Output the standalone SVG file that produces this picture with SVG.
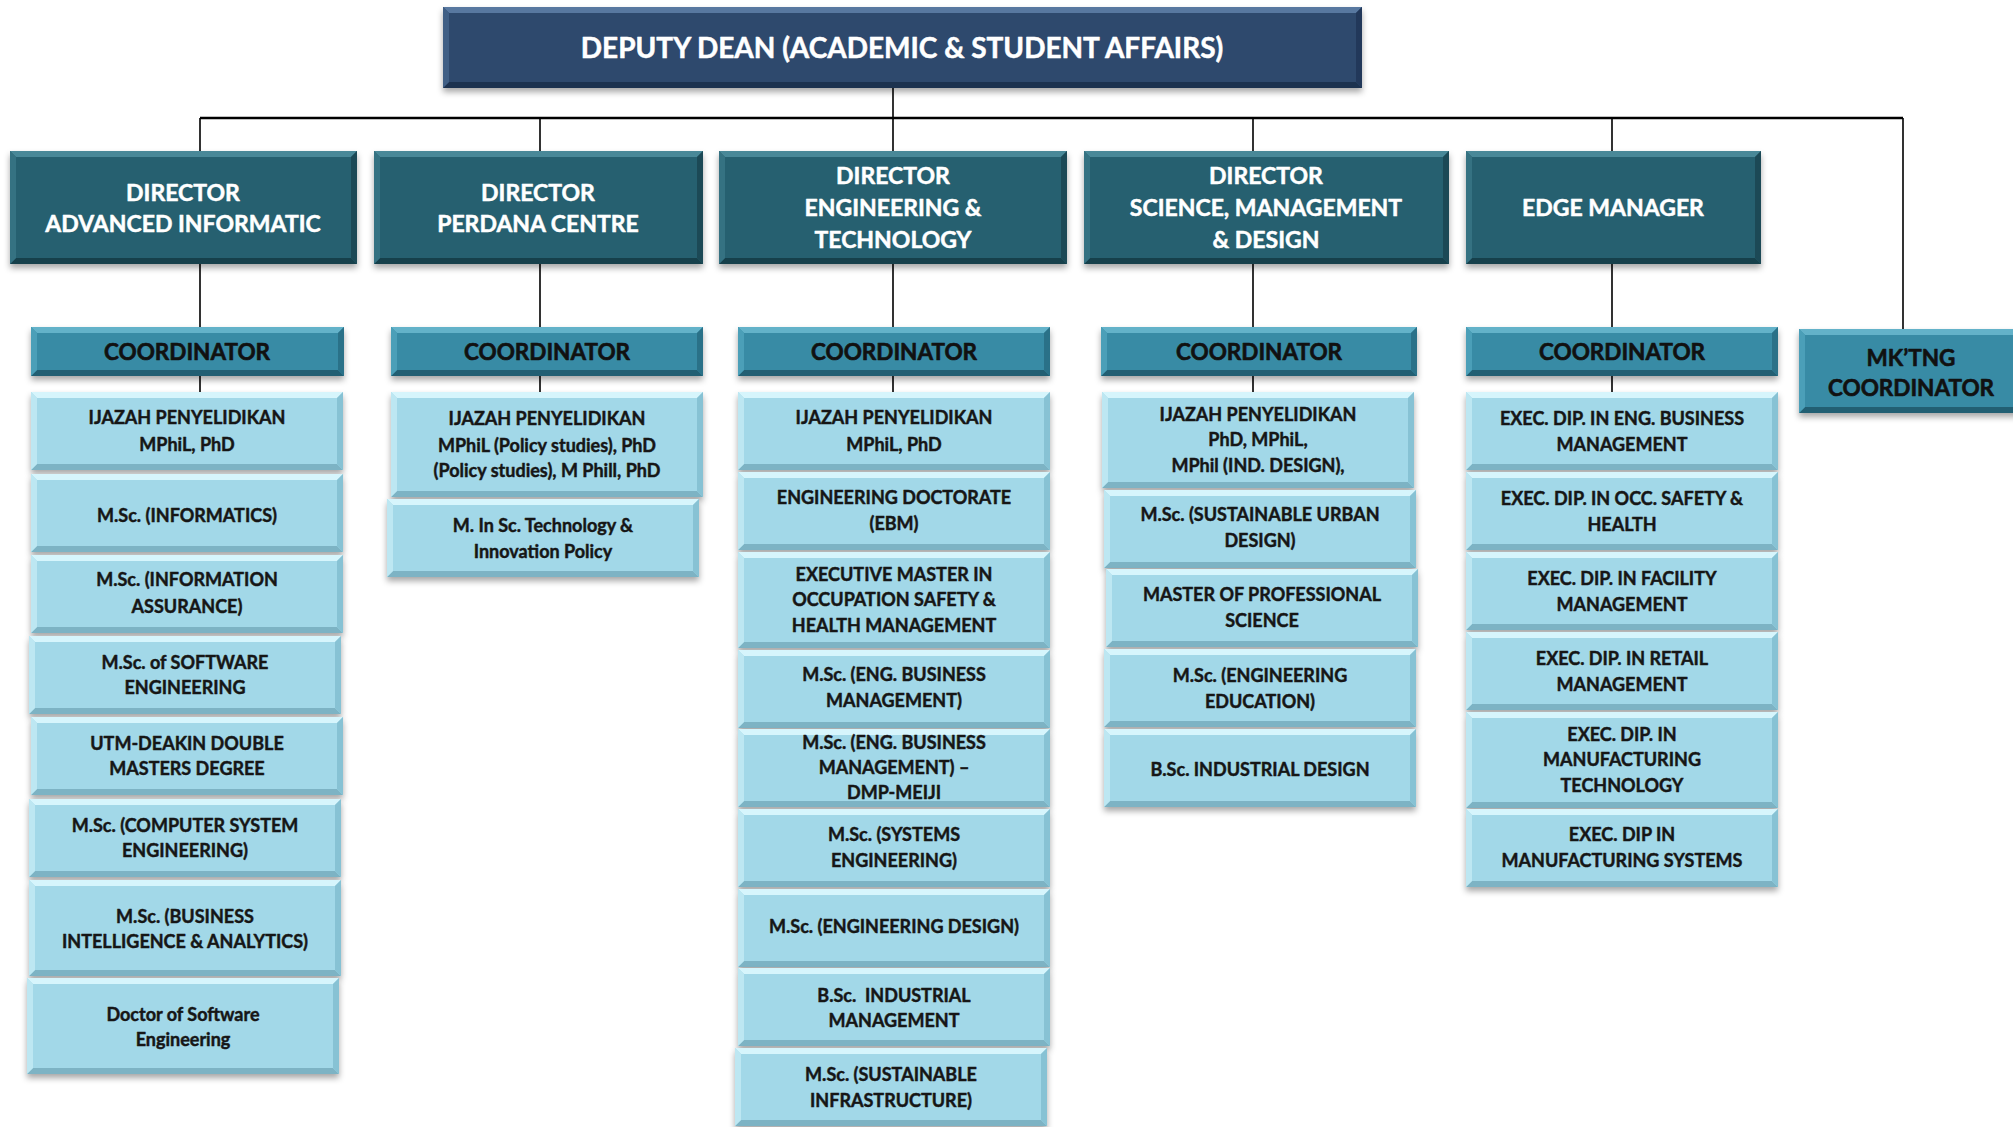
<svg xmlns="http://www.w3.org/2000/svg" xmlns:xlink="http://www.w3.org/1999/xlink" width="2013" height="1127" viewBox="0 0 2013 1127">
<style>
text{font-family:Lato,"Open Sans","Liberation Sans",sans-serif;font-weight:bold;text-anchor:middle;stroke-linejoin:round}
.tdep{font-size:28px;fill:#fff;stroke:#fff;stroke-width:0.5}
.tdir{font-size:23px;fill:#fff;stroke:#fff;stroke-width:0.5}
.tco{font-size:22.5px;fill:#111;stroke:#111;stroke-width:0.6}
.tit{font-size:18px;fill:#161616;stroke:#161616;stroke-width:0.45}
.ln{stroke:#000;stroke-width:1.6;fill:none}
.bus{stroke:#000;stroke-width:2.6;fill:none}
.dm{fill:#27606F}.dt{fill:#4A8898}.dl{fill:#367282}.dr{fill:#1C4A57}.db{fill:#18404B}
.cm{fill:#378BA5}.ct{fill:#63B2C9}.cl{fill:#4B9FB8}.cr{fill:#2B7188}.cb{fill:#235F73}
.im{fill:#A2D8E8}.it{fill:#D6F5FC}.il{fill:#BDE7F2}.ir{fill:#87C2D4}.ib{fill:#7DB3C4}
.sh{filter:url(#sh)}
</style>
<defs>
<filter id="sh" x="-5%" y="-10%" width="110%" height="135%"><feDropShadow dx="0" dy="4" stdDeviation="3" flood-color="#000" flood-opacity="0.35"/></filter>
<g id="i78">
<rect class="im" x="0" y="0" width="312" height="78"/>
<polygon class="it" points="0,0 312,0 306,6 6,6"/>
<polygon class="ib" points="0,78 312,78 306,72 6,72"/>
<polygon class="il" points="0,0 6,6 6,72 0,78"/>
<polygon class="ir" points="312,0 306,6 306,72 312,78"/>
</g>
<g id="i96">
<rect class="im" x="0" y="0" width="312" height="96"/>
<polygon class="it" points="0,0 312,0 306,6 6,6"/>
<polygon class="ib" points="0,96 312,96 306,90 6,90"/>
<polygon class="il" points="0,0 6,6 6,90 0,96"/>
<polygon class="ir" points="312,0 306,6 306,90 312,96"/>
</g>
<g id="i105">
<rect class="im" x="0" y="0" width="312" height="105"/>
<polygon class="it" points="0,0 312,0 306,6 6,6"/>
<polygon class="ib" points="0,105 312,105 306,99 6,99"/>
<polygon class="il" points="0,0 6,6 6,99 0,105"/>
<polygon class="ir" points="312,0 306,6 306,99 312,105"/>
</g>
</defs>
<rect width="2013" height="1127" fill="#fff"/>

<g id="connectors">
<path class="ln" d="M893,88V118"/>
<path class="bus" d="M200,118H1903"/>
<path class="ln" d="M200,118V151M540,118V151M893,118V151M1253,118V151M1612,118V151M1903,118V329"/>
<path class="ln" d="M200,264V327M540,264V327M893,264V327M1253,264V327M1612,264V327"/>
<path class="ln" d="M200,376V392M540,376V392M893,376V392M1253,376V392M1612,376V392"/>
</g>

<g id="deputy-dean">
<g class="sh" transform="translate(443,7)">
<rect x="0" y="0" width="919" height="81" fill="#2D4A6D"/>
<polygon points="0,0 919,0 913,6 6,6" fill="#5878A0"/>
<polygon points="0,81 919,81 913,75 6,75" fill="#1D3150"/>
<polygon points="0,0 6,6 6,75 0,81" fill="#3F5E85"/>
<polygon points="919,0 913,6 913,75 919,81" fill="#23395A"/>
</g>
<text class="tdep" x="902" y="58">DEPUTY DEAN (ACADEMIC &amp; STUDENT AFFAIRS)</text>
</g>

<g id="dir-advanced-informatic">
<g class="sh" transform="translate(10,151)">
<rect class="dm" width="347" height="113"/>
<polygon class="dt" points="0,0 347,0 341,6 6,6"/>
<polygon class="db" points="0,113 347,113 341,107 6,107"/>
<polygon class="dl" points="0,0 6,6 6,107 0,113"/>
<polygon class="dr" points="347,0 341,6 341,107 347,113"/>
</g>
<text class="tdir" x="183" y="201">DIRECTOR</text>
<text class="tdir" x="183" y="232">ADVANCED INFORMATIC</text>
</g>

<g id="dir-perdana">
<g class="sh" transform="translate(374,151)">
<rect class="dm" width="329" height="113"/>
<polygon class="dt" points="0,0 329,0 323,6 6,6"/>
<polygon class="db" points="0,113 329,113 323,107 6,107"/>
<polygon class="dl" points="0,0 6,6 6,107 0,113"/>
<polygon class="dr" points="329,0 323,6 323,107 329,113"/>
</g>
<text class="tdir" x="538" y="201">DIRECTOR</text>
<text class="tdir" x="538" y="232">PERDANA CENTRE</text>
</g>

<g id="dir-engineering">
<g class="sh" transform="translate(719,151)">
<rect class="dm" width="348" height="113"/>
<polygon class="dt" points="0,0 348,0 342,6 6,6"/>
<polygon class="db" points="0,113 348,113 342,107 6,107"/>
<polygon class="dl" points="0,0 6,6 6,107 0,113"/>
<polygon class="dr" points="348,0 342,6 342,107 348,113"/>
</g>
<text class="tdir" x="893" y="184">DIRECTOR</text>
<text class="tdir" x="893" y="216">ENGINEERING &amp;</text>
<text class="tdir" x="893" y="248">TECHNOLOGY</text>
</g>

<g id="dir-science">
<g class="sh" transform="translate(1084,151)">
<rect class="dm" width="365" height="113"/>
<polygon class="dt" points="0,0 365,0 359,6 6,6"/>
<polygon class="db" points="0,113 365,113 359,107 6,107"/>
<polygon class="dl" points="0,0 6,6 6,107 0,113"/>
<polygon class="dr" points="365,0 359,6 359,107 365,113"/>
</g>
<text class="tdir" x="1266" y="184">DIRECTOR</text>
<text class="tdir" x="1266" y="216">SCIENCE, MANAGEMENT</text>
<text class="tdir" x="1266" y="248">&amp; DESIGN</text>
</g>

<g id="edge-manager">
<g class="sh" transform="translate(1466,151)">
<rect class="dm" width="295" height="113"/>
<polygon class="dt" points="0,0 295,0 289,6 6,6"/>
<polygon class="db" points="0,113 295,113 289,107 6,107"/>
<polygon class="dl" points="0,0 6,6 6,107 0,113"/>
<polygon class="dr" points="295,0 289,6 289,107 295,113"/>
</g>
<text class="tdir" x="1613" y="216">EDGE MANAGER</text>
</g>

<g id="coord-1">
<g class="sh" transform="translate(31,327)">
<rect class="cm" width="313" height="49"/>
<polygon class="ct" points="0,0 313,0 307,6 6,6"/>
<polygon class="cb" points="0,49 313,49 307,43 6,43"/>
<polygon class="cl" points="0,0 6,6 6,43 0,49"/>
<polygon class="cr" points="313,0 307,6 307,43 313,49"/>
</g>
<text class="tco" x="187" y="360">COORDINATOR</text>
</g>

<g id="coord-2">
<g class="sh" transform="translate(391,327)">
<rect class="cm" width="312" height="49"/>
<polygon class="ct" points="0,0 312,0 306,6 6,6"/>
<polygon class="cb" points="0,49 312,49 306,43 6,43"/>
<polygon class="cl" points="0,0 6,6 6,43 0,49"/>
<polygon class="cr" points="312,0 306,6 306,43 312,49"/>
</g>
<text class="tco" x="547" y="360">COORDINATOR</text>
</g>

<g id="coord-3">
<g class="sh" transform="translate(738,327)">
<rect class="cm" width="312" height="49"/>
<polygon class="ct" points="0,0 312,0 306,6 6,6"/>
<polygon class="cb" points="0,49 312,49 306,43 6,43"/>
<polygon class="cl" points="0,0 6,6 6,43 0,49"/>
<polygon class="cr" points="312,0 306,6 306,43 312,49"/>
</g>
<text class="tco" x="894" y="360">COORDINATOR</text>
</g>

<g id="coord-4">
<g class="sh" transform="translate(1101,327)">
<rect class="cm" width="316" height="49"/>
<polygon class="ct" points="0,0 316,0 310,6 6,6"/>
<polygon class="cb" points="0,49 316,49 310,43 6,43"/>
<polygon class="cl" points="0,0 6,6 6,43 0,49"/>
<polygon class="cr" points="316,0 310,6 310,43 316,49"/>
</g>
<text class="tco" x="1259" y="360">COORDINATOR</text>
</g>

<g id="coord-5">
<g class="sh" transform="translate(1466,327)">
<rect class="cm" width="312" height="49"/>
<polygon class="ct" points="0,0 312,0 306,6 6,6"/>
<polygon class="cb" points="0,49 312,49 306,43 6,43"/>
<polygon class="cl" points="0,0 6,6 6,43 0,49"/>
<polygon class="cr" points="312,0 306,6 306,43 312,49"/>
</g>
<text class="tco" x="1622" y="360">COORDINATOR</text>
</g>

<g id="mktng-coordinator">
<g class="sh" transform="translate(1799,329)">
<rect class="cm" width="226" height="84"/>
<polygon class="ct" points="0,0 226,0 220,6 6,6"/>
<polygon class="cb" points="0,84 226,84 220,78 6,78"/>
<polygon class="cl" points="0,0 6,6 6,78 0,84"/>
<polygon class="cr" points="226,0 220,6 220,78 226,84"/>
</g>
<text class="tco" x="1911" y="366">MK’TNG</text>
<text class="tco" x="1911" y="396">COORDINATOR</text>
</g>

<!-- Column 1 -->
<g id="c1-ijazah"><use class="sh" href="#i78" x="31" y="392"/><text class="tit" x="187" y="424">IJAZAH PENYELIDIKAN</text><text class="tit" x="187" y="451">MPhiL, PhD</text></g>
<g id="c1-informatics"><use class="sh" href="#i78" x="31" y="474"/><text class="tit" x="187" y="522">M.Sc. (INFORMATICS)</text></g>
<g id="c1-assurance"><use class="sh" href="#i78" x="31" y="555"/><text class="tit" x="187" y="586">M.Sc. (INFORMATION</text><text class="tit" x="187" y="613">ASSURANCE)</text></g>
<g id="c1-software"><use class="sh" href="#i78" x="29" y="636"/><text class="tit" x="185" y="669">M.Sc. of SOFTWARE</text><text class="tit" x="185" y="694">ENGINEERING</text></g>
<g id="c1-deakin"><use class="sh" href="#i78" x="31" y="717"/><text class="tit" x="187" y="750">UTM-DEAKIN DOUBLE</text><text class="tit" x="187" y="775">MASTERS DEGREE</text></g>
<g id="c1-cse"><use class="sh" href="#i78" x="29" y="799"/><text class="tit" x="185" y="832">M.Sc. (COMPUTER SYSTEM</text><text class="tit" x="185" y="857">ENGINEERING)</text></g>
<g id="c1-bia"><use class="sh" href="#i96" x="29" y="880"/><text class="tit" x="185" y="923">M.Sc. (BUSINESS</text><text class="tit" x="185" y="948">INTELLIGENCE &amp; ANALYTICS)</text></g>
<g id="c1-dse"><use class="sh" href="#i96" x="27" y="978"/><text class="tit" x="183" y="1021">Doctor of Software</text><text class="tit" x="183" y="1046">Engineering</text></g>

<!-- Column 2 -->
<g id="c2-ijazah"><use class="sh" href="#i105" x="391" y="392"/><text class="tit" x="547" y="425">IJAZAH PENYELIDIKAN</text><text class="tit" x="547" y="452">MPhiL (Policy studies), PhD</text><text class="tit" x="547" y="477">(Policy studies), M Phill, PhD</text></g>
<g id="c2-policy"><use class="sh" href="#i78" x="387" y="499"/><text class="tit" x="543" y="532">M. In Sc. Technology &amp;</text><text class="tit" x="543" y="558">Innovation Policy</text></g>

<!-- Column 3 -->
<g id="c3-ijazah"><use class="sh" href="#i78" x="738" y="392"/><text class="tit" x="894" y="424">IJAZAH PENYELIDIKAN</text><text class="tit" x="894" y="451">MPhiL, PhD</text></g>
<g id="c3-engd"><use class="sh" href="#i78" x="738" y="472"/><text class="tit" x="894" y="504">ENGINEERING DOCTORATE</text><text class="tit" x="894" y="530">(EBM)</text></g>
<g id="c3-exec"><use class="sh" href="#i96" x="738" y="552"/><text class="tit" x="894" y="581">EXECUTIVE MASTER IN</text><text class="tit" x="894" y="606">OCCUPATION SAFETY &amp;</text><text class="tit" x="894" y="632">HEALTH MANAGEMENT</text></g>
<g id="c3-ebm"><use class="sh" href="#i78" x="738" y="650"/><text class="tit" x="894" y="681">M.Sc. (ENG. BUSINESS</text><text class="tit" x="894" y="707">MANAGEMENT)</text></g>
<g id="c3-meiji"><use class="sh" href="#i78" x="738" y="729"/><text class="tit" x="894" y="749">M.Sc. (ENG. BUSINESS</text><text class="tit" x="894" y="774">MANAGEMENT) –</text><text class="tit" x="894" y="799">DMP-MEIJI</text></g>
<g id="c3-systems"><use class="sh" href="#i78" x="738" y="809"/><text class="tit" x="894" y="841">M.Sc. (SYSTEMS</text><text class="tit" x="894" y="867">ENGINEERING)</text></g>
<g id="c3-design"><use class="sh" href="#i78" x="738" y="889"/><text class="tit" x="894" y="933">M.Sc. (ENGINEERING DESIGN)</text></g>
<g id="c3-bsc"><use class="sh" href="#i78" x="738" y="968"/><text class="tit" x="894" y="1002" xml:space="preserve">B.Sc.  INDUSTRIAL</text><text class="tit" x="894" y="1027">MANAGEMENT</text></g>
<g id="c3-infra"><use class="sh" href="#i78" x="735" y="1048"/><text class="tit" x="891" y="1081">M.Sc. (SUSTAINABLE</text><text class="tit" x="891" y="1107">INFRASTRUCTURE)</text></g>

<!-- Column 4 -->
<g id="c4-ijazah"><use class="sh" href="#i96" x="1102" y="392"/><text class="tit" x="1258" y="421">IJAZAH PENYELIDIKAN</text><text class="tit" x="1258" y="446">PhD, MPhiL,</text><text class="tit" x="1258" y="472">MPhil (IND. DESIGN),</text></g>
<g id="c4-urban"><use class="sh" href="#i78" x="1104" y="490"/><text class="tit" x="1260" y="521">M.Sc. (SUSTAINABLE URBAN</text><text class="tit" x="1260" y="547">DESIGN)</text></g>
<g id="c4-prof"><use class="sh" href="#i78" x="1106" y="569"/><text class="tit" x="1262" y="601">MASTER OF PROFESSIONAL</text><text class="tit" x="1262" y="627">SCIENCE</text></g>
<g id="c4-edu"><use class="sh" href="#i78" x="1104" y="649"/><text class="tit" x="1260" y="682">M.Sc. (ENGINEERING</text><text class="tit" x="1260" y="708">EDUCATION)</text></g>
<g id="c4-bsc"><use class="sh" href="#i78" x="1104" y="729"/><text class="tit" x="1260" y="776">B.Sc. INDUSTRIAL DESIGN</text></g>

<!-- Column 5 -->
<g id="c5-ebm"><use class="sh" href="#i78" x="1466" y="392"/><text class="tit" x="1622" y="425">EXEC. DIP. IN ENG. BUSINESS</text><text class="tit" x="1622" y="451">MANAGEMENT</text></g>
<g id="c5-osh"><use class="sh" href="#i78" x="1466" y="472"/><text class="tit" x="1622" y="505">EXEC. DIP. IN OCC. SAFETY &amp;</text><text class="tit" x="1622" y="531">HEALTH</text></g>
<g id="c5-facility"><use class="sh" href="#i78" x="1466" y="552"/><text class="tit" x="1622" y="585">EXEC. DIP. IN FACILITY</text><text class="tit" x="1622" y="611">MANAGEMENT</text></g>
<g id="c5-retail"><use class="sh" href="#i78" x="1466" y="632"/><text class="tit" x="1622" y="665">EXEC. DIP. IN RETAIL</text><text class="tit" x="1622" y="691">MANAGEMENT</text></g>
<g id="c5-mtech"><use class="sh" href="#i96" x="1466" y="712"/><text class="tit" x="1622" y="741">EXEC. DIP. IN</text><text class="tit" x="1622" y="766">MANUFACTURING</text><text class="tit" x="1622" y="792">TECHNOLOGY</text></g>
<g id="c5-msys"><use class="sh" href="#i78" x="1466" y="809"/><text class="tit" x="1622" y="841">EXEC. DIP IN</text><text class="tit" x="1622" y="867">MANUFACTURING SYSTEMS</text></g>
</svg>
